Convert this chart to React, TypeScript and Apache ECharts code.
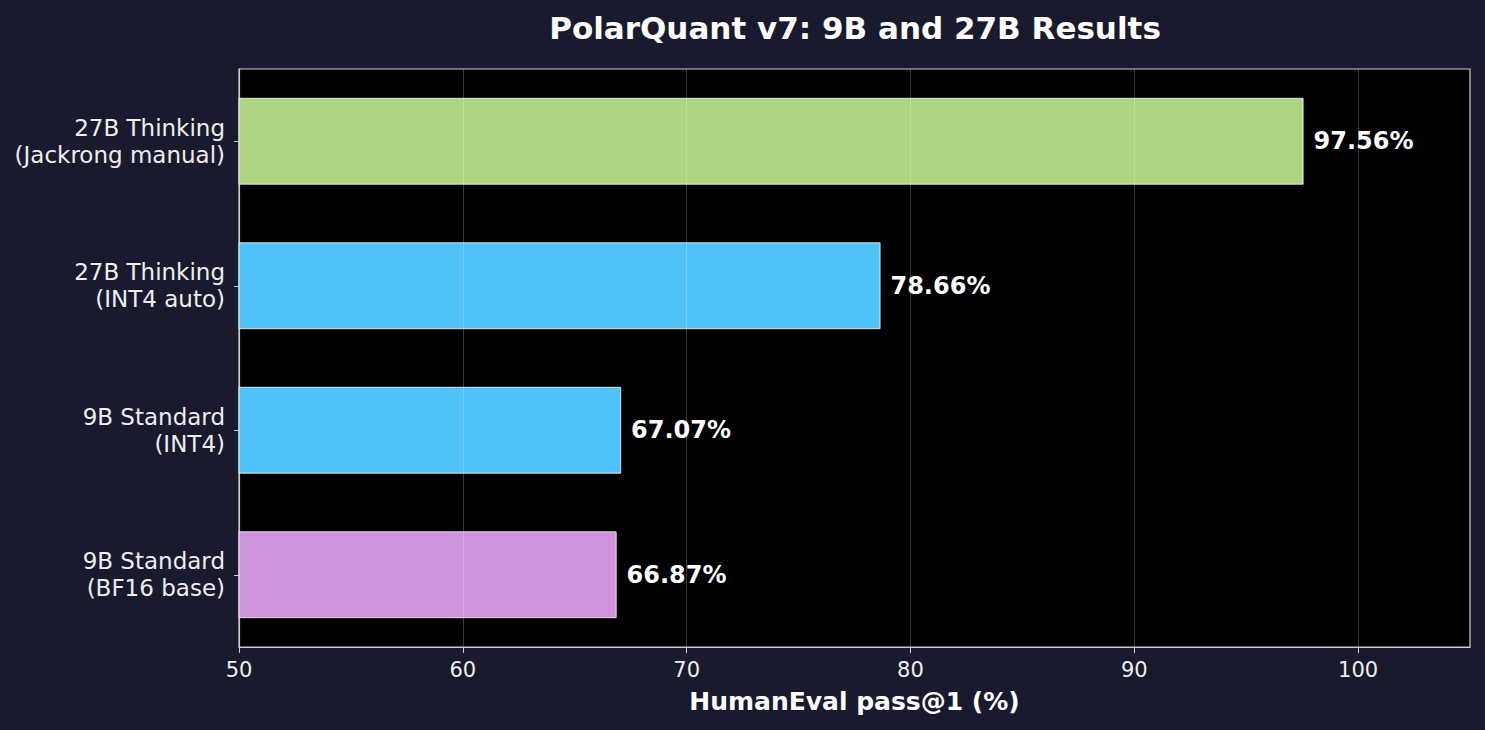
import React, { useEffect, useRef } from "react";
import * as echarts from "echarts";

const categories = [
  "9B Standard\n(BF16 base)",
  "9B Standard\n(INT4)",
  "27B Thinking\n(INT4 auto)",
  "27B Thinking\n(Jackrong manual)",
];
const values = [66.87, 67.07, 78.66, 97.56];
const barColors = ["#ce93d8", "#4fc3f7", "#4fc3f7", "#aed581"];
const gridValues = [60, 70, 80, 90, 100];

const FONT = "DejaVu Sans";

export default function App() {
  const ref = useRef<HTMLDivElement>(null);
  useEffect(() => {
    document.body.style.margin = "0";
    const chart = echarts.init(ref.current!, null, { renderer: "svg" });
    chart.setOption({
      animation: false,
      backgroundColor: "#1a1a2e",
      textStyle: { fontFamily: FONT },
      title: {
        text: "PolarQuant v7: 9B and 27B Results",
        left: 850,
        textAlign: "center",
        top: 7,
        textStyle: { color: "#ffffff", fontSize: 31, fontWeight: "bold", fontFamily: FONT },
      },
      grid: {
        left: 239,
        right: 15,
        top: 69,
        bottom: 83,
        show: true,
        backgroundColor: "#000000",
        borderColor: "#cccccc",
        borderWidth: 1.2,
      },
      xAxis: {
        type: "value",
        min: 50,
        max: 105,
        interval: 10,
        name: "HumanEval pass@1 (%)",
        nameLocation: "middle",
        nameGap: 42,
        nameTextStyle: { color: "#ffffff", fontSize: 25, fontWeight: "bold", fontFamily: FONT },
        axisLine: { show: true, lineStyle: { color: "#cccccc", width: 1.2 } },
        axisTick: { show: true, length: 6, lineStyle: { color: "#cccccc" } },
        splitLine: { show: false },
        axisLabel: {
          color: "#eeeeee",
          fontSize: 21,
          margin: 12,
          fontFamily: FONT,
          showMaxLabel: false,
        },
      },
      yAxis: {
        type: "category",
        data: categories,
        axisLine: { show: true, lineStyle: { color: "#cccccc", width: 1.2 } },
        axisTick: { show: true, length: 5, alignWithLabel: true, lineStyle: { color: "#cccccc" } },
        axisLabel: {
          color: "#eeeeee",
          fontSize: 23,
          lineHeight: 27,
          margin: 14,
          fontFamily: FONT,
          align: "right",
        },
      },
      series: [
        {
          type: "bar",
          barWidth: "60%",
          data: values.map((v, i) => ({
            value: v,
            itemStyle: { color: barColors[i], borderColor: "#ffffff", borderWidth: 0.8 },
          })),
          label: {
            show: true,
            position: "right",
            distance: 10,
            color: "#ffffff",
            fontSize: 24,
            fontWeight: "bold",
            fontFamily: FONT,
            formatter: (p: any) => p.value.toFixed(2) + "%",
          },
          markLine: {
            silent: true,
            symbol: "none",
            label: { show: false },
            lineStyle: { color: "rgba(255,255,255,0.22)", width: 1, type: "solid" },
            data: gridValues.map((g) => ({ xAxis: g })),
          },
        },
      ],
    });
    return () => chart.dispose();
  }, []);
  return <div ref={ref} style={{ width: 1485, height: 730, position: "absolute", left: 0, top: 0 }} />;
}
